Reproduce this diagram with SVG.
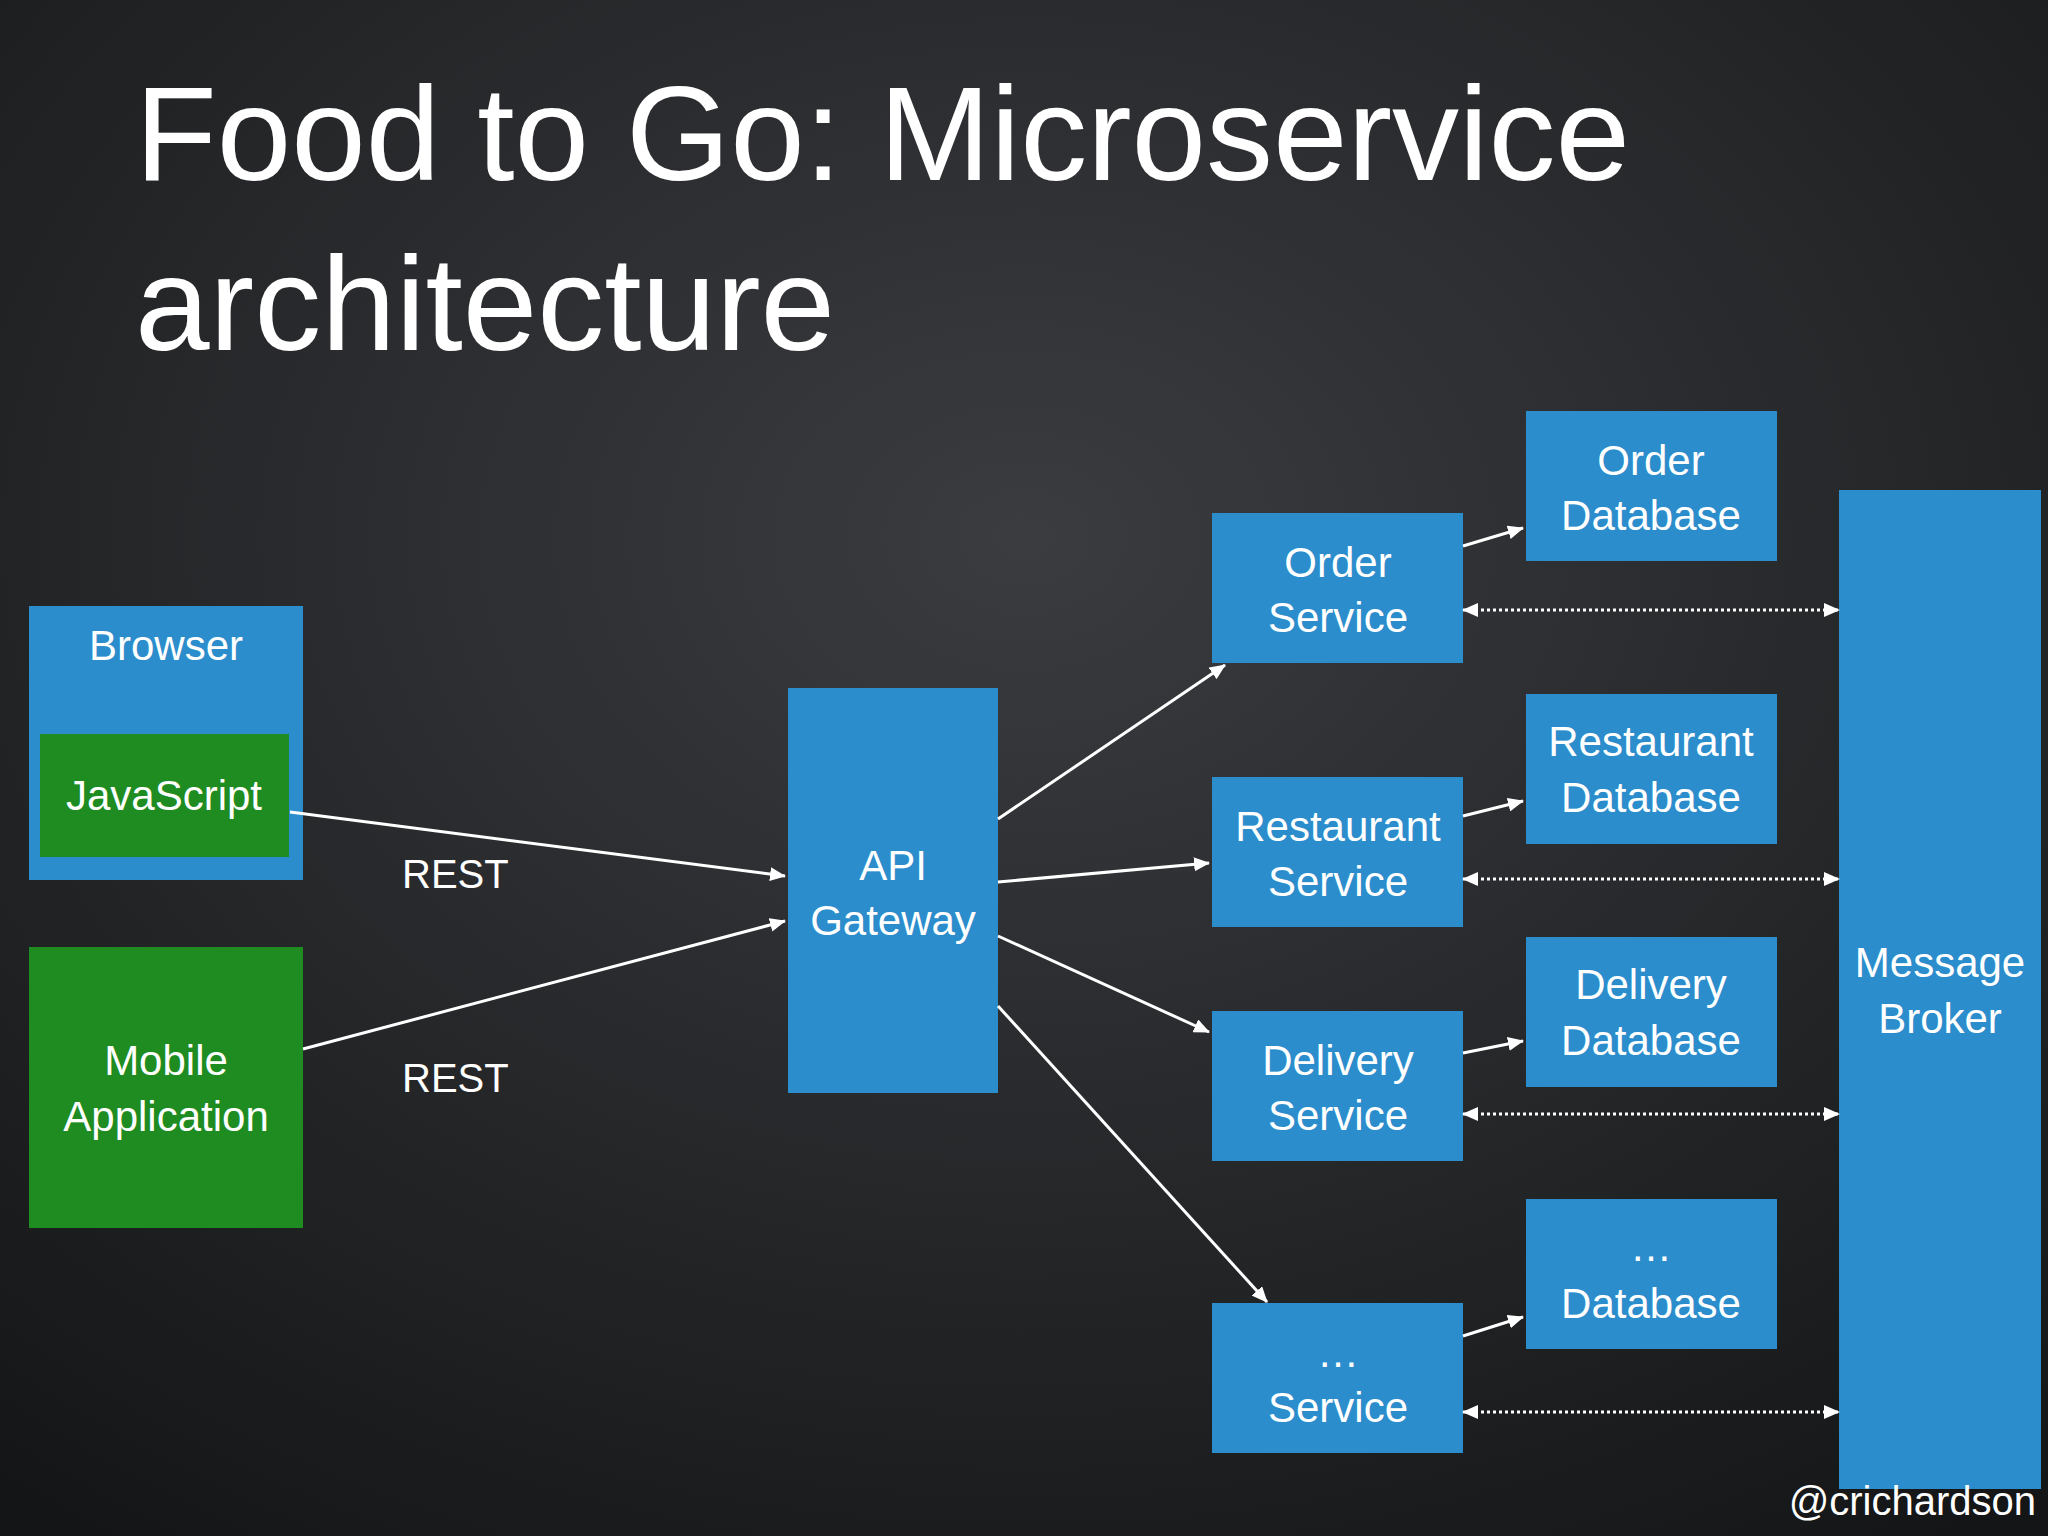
<svg xmlns="http://www.w3.org/2000/svg" width="2048" height="1536" viewBox="0 0 2048 1536">
<defs>
<radialGradient id="bg" cx="0.5" cy="0.35" r="0.8"><stop offset="0" stop-color="#3a3c40"/><stop offset="1" stop-color="#141516"/></radialGradient>
<marker id="ah" markerWidth="16" markerHeight="14" refX="15" refY="7" orient="auto" markerUnits="userSpaceOnUse" viewBox="0 0 16 14"><path d="M0,0 L16,7 L0,14 z" fill="#fff"/></marker>
<marker id="as" markerWidth="16" markerHeight="14" refX="1" refY="7" orient="auto" markerUnits="userSpaceOnUse" viewBox="0 0 16 14"><path d="M16,0 L0,7 L16,14 z" fill="#fff"/></marker>
<style>
.b{fill:#2b8dcc}.g{fill:#1f8c22}
text{font-family:"Liberation Sans",Arial,sans-serif;fill:#fff}
.t{font-size:42px;text-anchor:middle}
.c line{stroke:#fff;stroke-width:3}
.d{stroke-dasharray:3 3}
</style>
</defs>
<rect width="2048" height="1536" fill="url(#bg)"/>
<text x="135" y="180" font-size="134" textLength="1495">Food to Go: Microservice</text>
<text x="135" y="350" font-size="134">architecture</text>
<g id="browser"><rect class="b" x="29" y="606" width="274" height="274"/><text class="t" x="166" y="660">Browser</text></g>
<g id="javascript"><rect class="g" x="40" y="734" width="249" height="123"/><text class="t" x="164" y="810">JavaScript</text></g>
<g id="mobile"><rect class="g" x="29" y="947" width="274" height="281"/><text class="t" x="166" y="1075">Mobile</text><text class="t" x="166" y="1131">Application</text></g>
<g id="api"><rect class="b" x="788" y="688" width="210" height="405"/><text class="t" x="893" y="880">API</text><text class="t" x="893" y="935">Gateway</text></g>
<g id="order-svc"><rect class="b" x="1212" y="513" width="251" height="150"/><text class="t" x="1338" y="577">Order</text><text class="t" x="1338" y="632">Service</text></g>
<g id="rest-svc"><rect class="b" x="1212" y="777" width="251" height="150"/><text class="t" x="1338" y="841">Restaurant</text><text class="t" x="1338" y="896">Service</text></g>
<g id="deliv-svc"><rect class="b" x="1212" y="1011" width="251" height="150"/><text class="t" x="1338" y="1075">Delivery</text><text class="t" x="1338" y="1130">Service</text></g>
<g id="other-svc"><rect class="b" x="1212" y="1303" width="251" height="150"/><text class="t" x="1338" y="1367">…</text><text class="t" x="1338" y="1422">Service</text></g>
<g id="order-db"><rect class="b" x="1526" y="411" width="251" height="150"/><text class="t" x="1651" y="475">Order</text><text class="t" x="1651" y="530">Database</text></g>
<g id="rest-db"><rect class="b" x="1526" y="694" width="251" height="150"/><text class="t" x="1651" y="756">Restaurant</text><text class="t" x="1651" y="812">Database</text></g>
<g id="deliv-db"><rect class="b" x="1526" y="937" width="251" height="150"/><text class="t" x="1651" y="999">Delivery</text><text class="t" x="1651" y="1055">Database</text></g>
<g id="other-db"><rect class="b" x="1526" y="1199" width="251" height="150"/><text class="t" x="1651" y="1261">…</text><text class="t" x="1651" y="1318">Database</text></g>
<g id="broker"><rect class="b" x="1839" y="490" width="202" height="999"/><text class="t" x="1940" y="977">Message</text><text class="t" x="1940" y="1033">Broker</text></g>
<g class="c" id="connectors">
<line x1="290" y1="812" x2="785" y2="876" marker-end="url(#ah)"/>
<line x1="303" y1="1049" x2="785" y2="921" marker-end="url(#ah)"/>
<line x1="998" y1="819" x2="1225" y2="665" marker-end="url(#ah)"/>
<line x1="998" y1="882" x2="1209" y2="863" marker-end="url(#ah)"/>
<line x1="998" y1="936" x2="1209" y2="1032" marker-end="url(#ah)"/>
<line x1="998" y1="1006" x2="1267" y2="1302" marker-end="url(#ah)"/>
<line x1="1463" y1="546" x2="1523" y2="528" marker-end="url(#ah)"/>
<line x1="1463" y1="816" x2="1523" y2="801" marker-end="url(#ah)"/>
<line x1="1463" y1="1053" x2="1523" y2="1041" marker-end="url(#ah)"/>
<line x1="1463" y1="1336" x2="1523" y2="1317" marker-end="url(#ah)"/>
<line class="d" x1="1463" y1="610" x2="1839" y2="610" marker-start="url(#as)" marker-end="url(#ah)"/>
<line class="d" x1="1463" y1="879" x2="1839" y2="879" marker-start="url(#as)" marker-end="url(#ah)"/>
<line class="d" x1="1463" y1="1114" x2="1839" y2="1114" marker-start="url(#as)" marker-end="url(#ah)"/>
<line class="d" x1="1463" y1="1412" x2="1839" y2="1412" marker-start="url(#as)" marker-end="url(#ah)"/>
</g>
<text x="402" y="888" font-size="40">REST</text>
<text x="402" y="1092" font-size="40">REST</text>
<text x="2036" y="1515" font-size="40" text-anchor="end">@crichardson</text>
</svg>
